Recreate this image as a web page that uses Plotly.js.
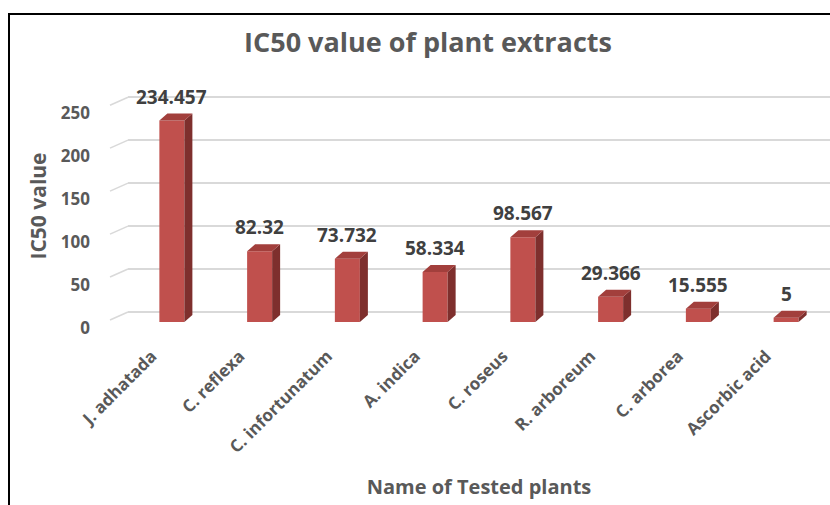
<!DOCTYPE html>
<html>
<head>
<meta charset="utf-8">
<script src="https://cdn.plot.ly/plotly-3.0.1.min.js"></script>
<style>
  html, body { margin: 0; padding: 0; background: #ffffff; }
  #chart { width: 830px; height: 505px; }
</style>
</head>
<body>
<div id="chart"></div>
<script>
// ---- data ----
const categories = ['J. adhatada', 'C. reflexa', 'C. infortunatum', 'A. indica', 'C. roseus', 'R. arboreum', 'C. arborea', 'Ascorbic acid'];
const ic50 = [234.457, 82.32, 73.732, 58.334, 98.567, 29.366, 15.555, 5];
const valueLabels = ['234.457', '82.32', '73.732', '58.334', '98.567', '29.366', '15.555', '5'];
const yTicks = [0, 50, 100, 150, 200, 250];

// ---- layout constants ----
const W = 830, H = 505;
const ML = 128, MR = 0, MT = 90, MB = 183;
const plotW = W - ML - MR, plotH = H - MT - MB;
const yMax = 270;
const pxPerUnit = plotH / yMax;
const pxPerCat = plotW / categories.length;
const BAR_W = 0.285;               // front face width (category units)
const DX = 8 / pxPerCat;           // 3D depth, x
const DY = 7 / pxPerUnit;          // 3D depth, y
const GRID_SHIFT = 10 / pxPerUnit; // back-wall gridlines sit above the floor

const idx = categories.map((_, i) => i);
const txt = '#595959';
const font = 'Open Sans, Noto Sans, sans-serif';

// side and top faces built from the data
const sideX = [], sideY = [], topX = [], topY = [];
idx.forEach(i => {
  const v = ic50[i];
  const r = i + BAR_W / 2, l = i - BAR_W / 2;
  sideX.push(r, r + DX, r + DX, r, r, null);
  sideY.push(0, DY, v + DY, v, 0, null);
  topX.push(l, r, r + DX, l + DX, l, null);
  topY.push(v, v, v + DY, v + DY, v, null);
});

const traces = [
  {
    type: 'bar', x: idx, y: ic50, width: BAR_W,
    marker: { color: '#C0504D', line: { width: 0 } },
    hoverinfo: 'x+y', showlegend: false
  },
  {
    type: 'scatter', mode: 'lines', x: sideX, y: sideY, fill: 'toself',
    fillcolor: '#7E2F2D', line: { width: 0, color: '#7E2F2D' },
    hoverinfo: 'skip', showlegend: false
  },
  {
    type: 'scatter', mode: 'lines', x: topX, y: topY, fill: 'toself',
    fillcolor: '#A23F3C', line: { width: 0, color: '#A23F3C' },
    hoverinfo: 'skip', showlegend: false
  },
  // invisible trace carrying the back-wall gridlines
  {
    type: 'scatter', mode: 'markers', x: [0], y: [0], yaxis: 'y2',
    marker: { opacity: 0 }, hoverinfo: 'skip', showlegend: false
  }
];

const annotations = idx.map(i => ({
  x: i, y: ic50[i] + DY, xref: 'x', yref: 'y',
  text: valueLabels[i], showarrow: false,
  yanchor: 'middle', yshift: 17,
  font: { family: font, size: 19, color: '#404040', weight: 'bold' }
}));

// decorative frame and slanted gridline ends
const px2paperX = px => (px - ML) / plotW;
const px2paperY = py => (H - MB - py) / plotH;
const shapes = [
  {
    type: 'path', xref: 'paper', yref: 'paper',
    path: `M ${px2paperX(9)} ${px2paperY(H + 5)} L ${px2paperX(9)} ${px2paperY(14)} L ${px2paperX(W + 5)} ${px2paperY(14)}`,
    line: { color: '#000000', width: 2 }
  }
];
yTicks.forEach(v => {
  shapes.push({
    type: 'line', xref: 'paper', yref: 'y2', layer: 'below',
    x0: px2paperX(110), y0: v - 8 / pxPerUnit, x1: 0, y1: v,
    line: { color: '#D9D9D9', width: 1.5 }
  });
});

const layout = {
  width: W, height: H,
  margin: { l: ML, r: MR, t: MT, b: MB, pad: 0 },
  paper_bgcolor: '#ffffff', plot_bgcolor: 'rgba(0,0,0,0)',
  showlegend: false,
  title: {
    text: 'IC50 value of plant extracts',
    xref: 'container', yref: 'container', x: 428 / W, y: 1 - 43 / H,
    xanchor: 'center', yanchor: 'middle',
    font: { family: font, size: 27, color: txt, weight: 'bold' }
  },
  xaxis: {
    range: [-0.5, categories.length - 0.5],
    tickvals: idx, ticktext: categories, tickangle: -45,
    showgrid: false, zeroline: false, showline: false, ticks: '',
    ticklabelshift: -20, ticklabelstandoff: 20,
    tickfont: { family: font, size: 17, color: txt, weight: 'bold' },
    title: {
      text: 'Name of Tested plants', standoff: 23,
      font: { family: font, size: 20, color: txt, weight: 'bold' }
    },
    automargin: false, fixedrange: true
  },
  yaxis: {
    range: [0, yMax], tickvals: yTicks,
    showgrid: false, zeroline: false, showline: false, ticks: '',
    ticklabelshift: 6, ticklabelstandoff: 37,
    tickfont: { family: font, size: 17, color: txt, weight: 'bold' },
    title: {
      text: 'IC50 value', standoff: 8,
      font: { family: font, size: 21, color: txt, weight: 'bold' }
    },
    automargin: false, fixedrange: true
  },
  yaxis2: {
    overlaying: 'y', side: 'left',
    range: [-GRID_SHIFT, yMax - GRID_SHIFT], tickvals: yTicks,
    showticklabels: false, ticks: '', showline: false, zeroline: false,
    showgrid: true, gridcolor: '#D9D9D9', gridwidth: 1.5, fixedrange: true
  },
  annotations: annotations,
  shapes: shapes
};

Plotly.newPlot('chart', traces, layout, { displayModeBar: false, staticPlot: true });
</script>
</body>
</html>
